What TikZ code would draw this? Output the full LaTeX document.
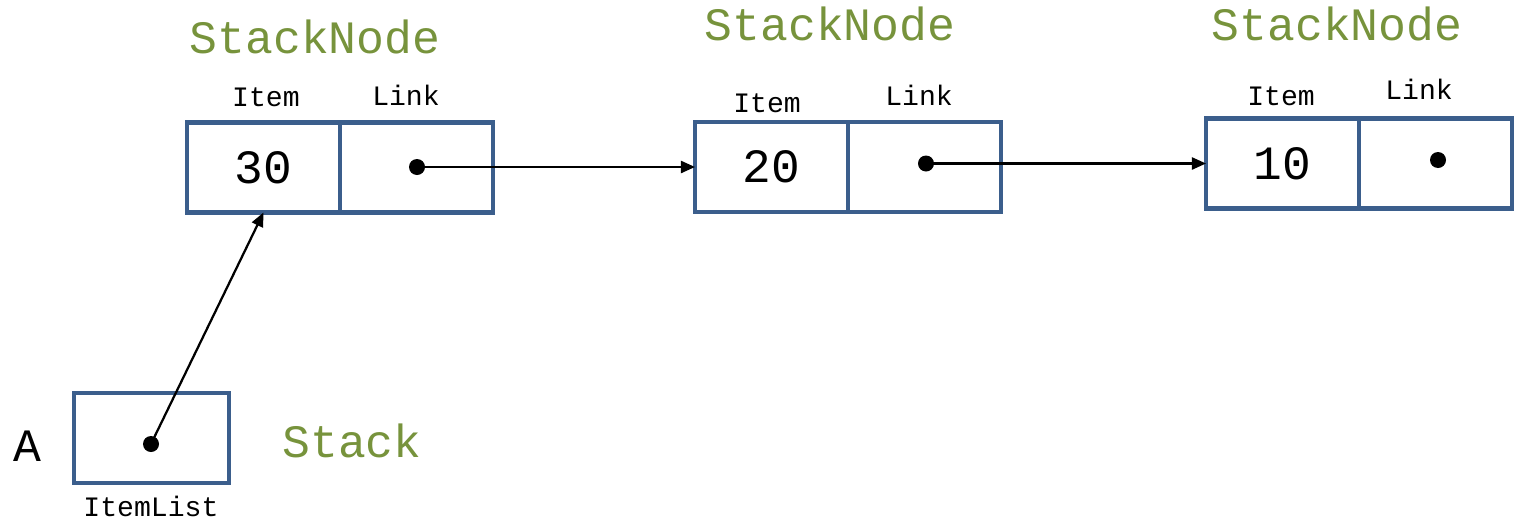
\documentclass[tikz,border=0pt]{standalone}
\usepackage{fontspec}
\newfontfamily\courfont{Liberation Mono}
\usetikzlibrary{positioning,arrows.meta}
\definecolor{cellblue}{HTML}{3B5E8C}
\definecolor{namegreen}{HTML}{77933C}
\tikzset{ cell/.style = { rectangle % one field of a stack node
, draw = cellblue
, line width = 3.2pt
, minimum width = 3.825cm
, minimum height = 2.25cm
, inner sep = 0pt
, outer sep = 0pt
, font = \courfont\fontsize{34}{36}\selectfont
}
, ptr/.style = { circle % pointer dot
, fill = black
, inner sep = 0pt
, minimum size = 0.4cm
}
, field/.style = { inner sep = 0pt % field name
, font = \courfont\fontsize{20}{22}\selectfont
}
, title/.style = { inner sep = 0pt % type name
, text = namegreen
, font = \courfont\fontsize{33}{36}\selectfont
}
}

\begin{document}
\begin{tikzpicture}[x=0.025cm, y=-0.025cm,
        link_style/.style={draw=black, line width=1.6pt, -{Triangle[length=0.35cm,width=0.3cm]}}]
    \useasboundingbox (0,0) rectangle (1514,520);

    % first node
    \node [cell] (i1) at (263.5,167.5) {30};
    \node [cell, right=0pt of i1] (l1) {};
    \node [ptr] (d1) at (417,167) {};
    \node [field] (fi1) at (266,97) {Item};
    \node [field] (fl1) at (406,95) {Link};
    \node [title] (t1) at (315,37) {StackNode};

    % second node
    \node [cell] (i2) at (771.5,167) {20};
    \node [cell, right=0pt of i2] (l2) {};
    \node [ptr] (d2) at (926,163.5) {};
    \node [field] (fi2) at (767,103) {Item};
    \node [field] (fl2) at (919,95) {Link};
    \node [title] (t2) at (830,24) {StackNode};

    % third node
    \node [cell] (i3) at (1282.5,163.5) {10};
    \node [cell, right=0pt of i3] (l3) {};
    \node [ptr] (d3) at (1438,160) {};
    \node [field] (fi3) at (1281,96) {Item};
    \node [field] (fl3) at (1419,89) {Link};
    \node [title] (t3) at (1337,24) {StackNode};

    % the stack
    \node [cell, minimum width=3.875cm] (s) at (151.5,438) {};
    \node [ptr] (ds) at (151,444) {};
    \node [field] (fs) at (151,506) {ItemList};
    \node [title] (ts) at (352,441) {Stack};
    \node [inner sep=0pt, font=\courfont\fontsize{33}{36}\selectfont] (a) at (27,446) {A};

    \draw [link_style] (d1.center) -- (i2.west);
    \draw [link_style] (d2.center) -- (i3.west);
    \draw [link_style] (ds.center) -- (i1.south);
\end{tikzpicture}
\end{document}
